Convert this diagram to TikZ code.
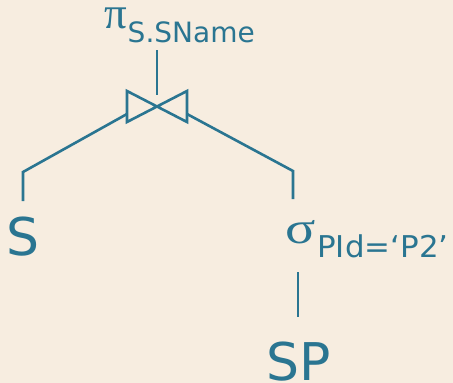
\documentclass[tikz,border=0pt]{standalone}
\usepackage{fontspec}
\setmainfont{DejaVu Sans}
\newfontfamily\greekfont{Liberation Serif}
\definecolor{ink}{RGB}{42,117,145}
\definecolor{paper}{RGB}{247,237,224}
\tikzset{
  edge/.style={draw=ink, line width=2.6pt, line cap=butt, line join=miter},
  lbl/.style={inner sep=0pt, outer sep=0pt, anchor=base west, text=ink},
  big/.style={lbl, font=\fontsize{52}{60}\selectfont},
}
\newcommand{\grk}[2][1]{\scalebox{#1}[1]{\greekfont\fontsize{45}{50}\selectfont #2}}
\newcommand{\subtx}[3][1]{\raisebox{-14pt}{\scalebox{#1}[1]{\fontsize{#2}{30}\selectfont #3}}}
\begin{document}
\begin{tikzpicture}[x=1pt,y=-1pt]
\fill[paper] (0,0) rectangle (453,383);
\useasboundingbox (0,0) rectangle (453,383);
% labels
\node[lbl, text height=22pt] (proj) at (104,28) {\grk{π}\hspace{1pt}\subtx{28}{S.SName}};
\node[big] (S) at (6,255) {S};
\node[lbl] (sel) at (285,243) {\grk[1.25]{σ}\hspace{2pt}\subtx[1.03]{30}{PId=‘P2’}};
\node[big, text depth=0pt] (SP) at (266,380) {SP};
% join symbol corners
\coordinate (jtl) at (127,91);
\coordinate (jbl) at (127,122);
\coordinate (jtr) at (187,91);
\coordinate (jbr) at (187,122);
\coordinate (jtop) at (157,95);
\coordinate (ptop) at (157,50);
\coordinate (jl) at (127,114);
\coordinate (jr) at (187,114);
\coordinate (lk) at (23,172);
\coordinate (lb) at (23,201);
\coordinate (rk) at (293,171);
\coordinate (rb) at (293,199);
\coordinate (st) at (298,272);
\coordinate (sb) at (298,317);
% connectors
\draw[edge] (ptop) -- (jtop);
\draw[edge] (jtl) -- (jbr) -- (jtr) -- (jbl) -- cycle;
\draw[edge] (jl) -- (lk) -- (lb);
\draw[edge] (jr) -- (rk) -- (rb);
\draw[edge] (st) -- (sb);
\end{tikzpicture}
\end{document}
